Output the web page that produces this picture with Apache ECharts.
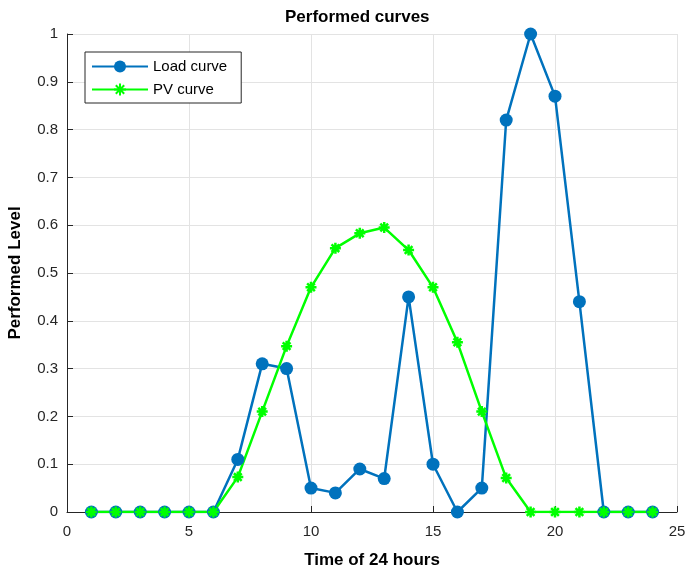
<!DOCTYPE html>
<html><head><meta charset="utf-8">
<script src="https://cdn.jsdelivr.net/npm/echarts@6/dist/echarts.min.js"></script>
<style>html,body{margin:0;padding:0;background:#fff}#c{width:685px;height:572px}</style>
</head><body><div id="c"></div>
<script>
const hours = [1,2,3,4,5,6,7,8,9,10,11,12,13,14,15,16,17,18,19,20,21,22,23,24];
const loadCurve = [0,0,0,0,0,0,0.11,0.31,0.30,0.05,0.04,0.09,0.07,0.45,0.10,0,0.05,0.82,1.0,0.87,0.44,0,0,0];
const pvCurve = [0,0,0,0,0,0,0.073,0.21,0.347,0.47,0.552,0.583,0.595,0.548,0.47,0.355,0.21,0.071,0,0,0,0,0,0];
const yTicks = [0,0.1,0.2,0.3,0.4,0.5,0.6,0.7,0.8,0.9,1];

const font = 'Liberation Sans, Arial, sans-serif';
const star = 'path://M0,5L10,5M5,0L5,10M1.5,1.5L8.5,8.5M8.5,1.5L1.5,8.5';
const chart = echarts.init(document.getElementById('c'));
chart.setOption({
  animation: false,
  textStyle: {fontFamily: font},
  title: {text: 'Performed curves', left: 285, top: 9, padding: 0,
    textStyle: {fontSize: 17, fontWeight: 'bold', color: '#000', fontFamily: font}},
  grid: {left: 67, right: 8, top: 34, bottom: 60, containLabel: false, outerBoundsMode: 'none'},
  legend: {
    orient: 'vertical', left: 85, top: 52,
    borderColor: '#262626', borderWidth: 1, padding: [7, 14, 6, 6],
    backgroundColor: '#fff', itemWidth: 56, itemHeight: 15, itemGap: 8,
    textStyle: {fontSize: 15, lineHeight: 15, color: '#000', fontFamily: font},
    data: ['Load curve', 'PV curve']
  },
  xAxis: {
    type: 'value', min: 0, max: 25, interval: 5,
    name: 'Time of 24 hours', nameLocation: 'middle', nameGap: 40,
    nameTextStyle: {fontSize: 17, fontWeight: 'bold', color: '#000'},
    axisLine: {lineStyle: {color: '#262626', width: 1}},
    axisTick: {inside: true, length: 6, lineStyle: {color: '#262626'}},
    axisLabel: {fontSize: 15, color: '#262626', margin: 12},
    splitLine: {show: true, lineStyle: {color: '#e3e3e3', width: 1}}
  },
  yAxis: {
    type: 'value', min: 0, max: 1, interval: 0.1,
    name: 'Performed Level', nameLocation: 'middle', nameGap: 43,
    nameTextStyle: {fontSize: 17, fontWeight: 'bold', color: '#000'},
    axisLine: {show: true, lineStyle: {color: '#262626', width: 1}},
    axisTick: {show: true, inside: true, length: 6, lineStyle: {color: '#262626'}},
    axisLabel: {fontSize: 15, color: '#262626', margin: 9,
      formatter: v => { const t = yTicks.find(x => Math.abs(x - v) < 1e-6); return t === undefined ? '' : String(t); }},
    splitLine: {show: true, lineStyle: {color: '#e3e3e3', width: 1}}
  },
  series: [
    {name: 'Load curve', type: 'line', data: hours.map((h, i) => [h, loadCurve[i]]),
      symbol: 'circle', symbolSize: 13,
      lineStyle: {color: '#0072BD', width: 2.5},
      itemStyle: {color: '#0072BD'}},
    {name: 'PV curve', type: 'line', data: hours.map((h, i) => [h, pvCurve[i]]),
      symbol: star, symbolSize: 11,
      lineStyle: {color: '#00FF00', width: 2.5},
      itemStyle: {color: 'rgba(0,0,0,0)', borderColor: '#00FF00', borderWidth: 2.5}}
  ]
});
</script></body></html>
